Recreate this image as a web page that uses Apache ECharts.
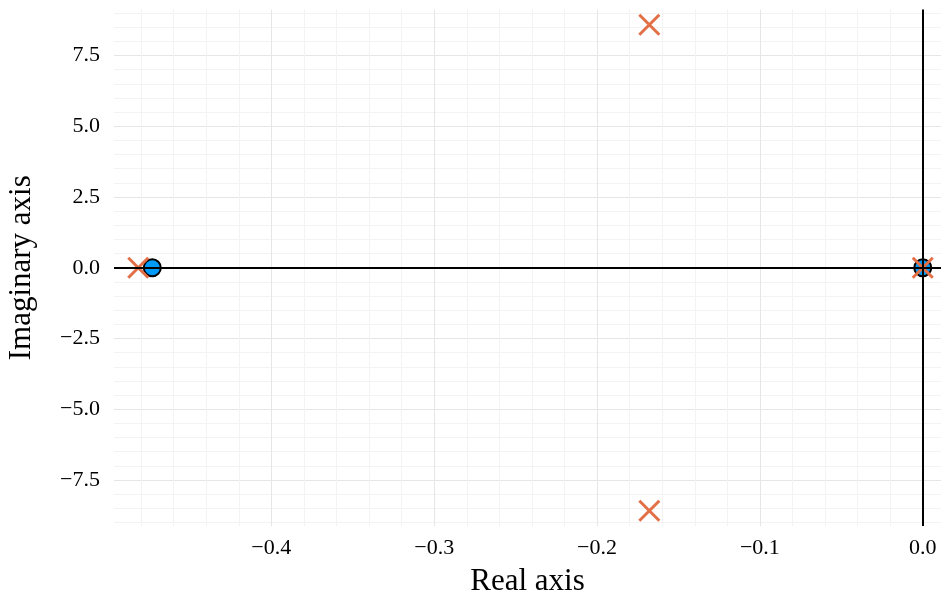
<!DOCTYPE html>
<html>
<head>
<meta charset="utf-8">
<script src="https://cdn.jsdelivr.net/npm/echarts@6/dist/echarts.min.js"></script>
<style>
  html, body { margin: 0; padding: 0; background: #ffffff; }
  #chart { width: 941px; height: 594px; }
</style>
</head>
<body>
<div id="chart"></div>
<script>
// Pole-zero map: poles drawn as crosses, zeros as filled circles.
const poles = [
  [-0.4817, 0],
  [-0.1679, 8.59],
  [-0.1679, -8.59],
  [0, 0]
];
const zeros = [
  [-0.4731, 0],
  [0, 0]
];
const realRange = [-0.4966, 0.0112];
const imagRange = [-9.13, 9.13];
const realStep = 0.1;
const imagStep = 2.5;

const serif = '"Liberation Serif", "DejaVu Serif", serif';
const crossPath = 'path://M0,0L10,10M10,0L0,10';

const chart = echarts.init(document.getElementById('chart'), null, { renderer: 'canvas' });

// one decimal, typographic minus sign
const fmtTick = v => (v < -1e-9 ? '\u2212' : '') + Math.abs(v).toFixed(1);

chart.setOption({
  backgroundColor: '#ffffff',
  animation: false,
  grid: { left: 114, right: 0, top: 9.5, bottom: 68, containLabel: false, outerBoundsMode: 'none' },
  xAxis: {
    type: 'value',
    min: realRange[0],
    max: realRange[1],
    minInterval: realStep,
    maxInterval: realStep,
    name: 'Real axis',
    nameLocation: 'middle',
    nameGap: 40,
    nameTextStyle: { fontFamily: serif, fontSize: 31, color: '#000' },
    axisLine: { show: false, onZero: false },
    axisTick: { show: false },
    axisLabel: {
      fontFamily: serif, fontSize: 22, color: '#000', margin: 11,
      showMinLabel: false, showMaxLabel: false,
      formatter: fmtTick
    },
    splitLine: { show: true, showMinLine: false, showMaxLine: false, lineStyle: { color: '#e6e6e6', width: 1 } },
    minorTick: { show: false, splitNumber: 5 },
    minorSplitLine: { show: true, lineStyle: { color: '#f3f3f3', width: 1 } }
  },
  yAxis: {
    type: 'value',
    min: imagRange[0],
    max: imagRange[1],
    minInterval: imagStep,
    maxInterval: imagStep,
    name: 'Imaginary axis',
    nameLocation: 'middle',
    nameGap: 77,
    nameRotate: 90,
    nameTextStyle: { fontFamily: serif, fontSize: 31, color: '#000' },
    axisLine: { show: false, onZero: false },
    axisTick: { show: false },
    axisLabel: {
      fontFamily: serif, fontSize: 22, color: '#000', margin: 14,
      showMinLabel: false, showMaxLabel: false,
      formatter: fmtTick
    },
    splitLine: { show: true, showMinLine: false, showMaxLine: false, lineStyle: { color: '#e6e6e6', width: 1 } },
    minorTick: { show: false, splitNumber: 5 },
    minorSplitLine: { show: true, lineStyle: { color: '#f3f3f3', width: 1 } }
  },
  series: [
    {
      // real and imaginary zero lines
      type: 'scatter',
      data: [],
      z: 1,
      markLine: {
        silent: true,
        symbol: 'none',
        label: { show: false },
        lineStyle: { color: '#000000', width: 2, type: 'solid' },
        data: [{ xAxis: 0 }, { yAxis: 0 }]
      }
    },
    {
      name: 'zeros',
      type: 'scatter',
      data: zeros,
      z: 3,
      symbol: 'circle',
      symbolSize: 17,
      itemStyle: { color: '#009AFA', borderColor: '#000000', borderWidth: 2, opacity: 1 }
    },
    {
      name: 'poles',
      type: 'scatter',
      data: poles,
      z: 4,
      symbol: crossPath,
      symbolSize: 20,
      itemStyle: { color: 'rgba(0,0,0,0)', borderColor: '#E26F46', borderWidth: 3, opacity: 1 }
    }
  ]
});
</script>
</body>
</html>
